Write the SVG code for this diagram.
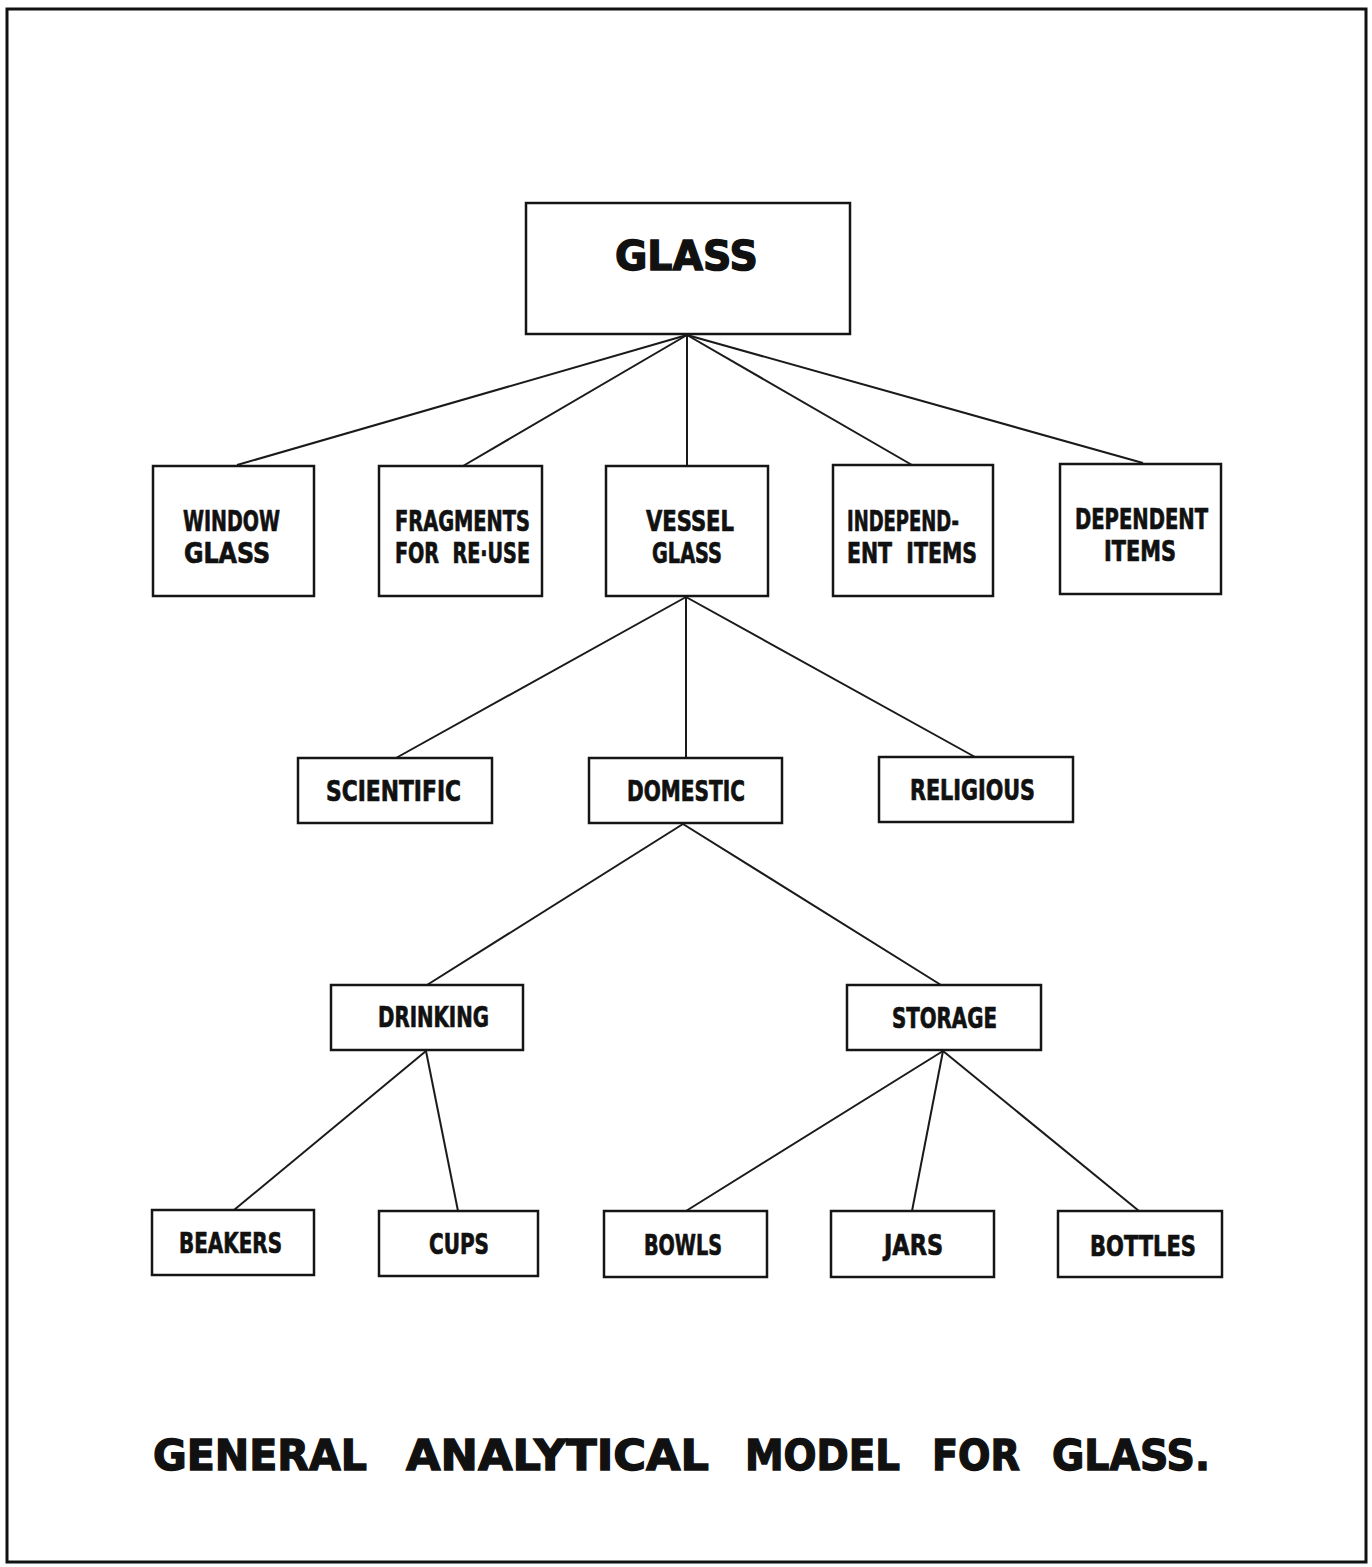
<svg xmlns="http://www.w3.org/2000/svg" width="1372" height="1567" viewBox="0 0 1372 1567">
<style>
.bg{fill:#ffffff}
.frame{fill:none;stroke:#111;stroke-width:3}
.box{fill:#fff;stroke:#151515;stroke-width:2.5}
.lbl{font-family:"Liberation Sans Narrow","DejaVu Sans Condensed","Liberation Sans",sans-serif;font-weight:bold;font-size:29px;fill:#111;stroke:#111;stroke-width:0.7}
.big{font-family:"DejaVu Sans","Liberation Sans",sans-serif;font-weight:bold;fill:#111;stroke:#111;stroke-width:1.4}
.conn line{stroke:#1a1a1a;stroke-width:2}
</style>
<rect class="bg" x="0" y="0" width="1372" height="1567"/>
<rect class="frame" x="7" y="9" width="1359" height="1553"/>
<g id="connectors" class="conn">
<line x1="687" y1="335" x2="237" y2="465"/>
<line x1="687" y1="335" x2="463" y2="466"/>
<line x1="687" y1="335" x2="687" y2="466"/>
<line x1="687" y1="335" x2="912" y2="465"/>
<line x1="687" y1="335" x2="1143" y2="463"/>
<line x1="686" y1="597" x2="396" y2="758"/>
<line x1="686" y1="597" x2="686" y2="758"/>
<line x1="686" y1="597" x2="975" y2="757"/>
<line x1="683" y1="824" x2="427" y2="985"/>
<line x1="683" y1="824" x2="941" y2="985"/>
<line x1="426" y1="1051" x2="234" y2="1210"/>
<line x1="426" y1="1051" x2="458" y2="1211"/>
<line x1="943" y1="1051" x2="686" y2="1211"/>
<line x1="943" y1="1051" x2="912" y2="1211"/>
<line x1="943" y1="1051" x2="1139" y2="1211"/>
</g>
<g id="glass"><rect class="box" x="526" y="203" width="324" height="131"/><text class="big" x="615" y="270" font-size="40" textLength="143" lengthAdjust="spacingAndGlyphs">GLASS</text></g>
<g id="window-glass"><rect class="box" x="153" y="466" width="161" height="130"/><text class="lbl" x="183" y="531" textLength="97" lengthAdjust="spacingAndGlyphs">WINDOW</text><text class="lbl" x="184" y="563" textLength="86" lengthAdjust="spacingAndGlyphs">GLASS</text></g>
<g id="fragments"><rect class="box" x="379" y="466" width="163" height="130"/><text class="lbl" x="395" y="531" textLength="135" lengthAdjust="spacingAndGlyphs">FRAGMENTS</text><text class="lbl" x="395" y="563" textLength="135" lengthAdjust="spacingAndGlyphs" xml:space="preserve">FOR  RE·USE</text></g>
<g id="vessel-glass"><rect class="box" x="606" y="466" width="162" height="130"/><text class="lbl" x="646" y="531" textLength="88" lengthAdjust="spacingAndGlyphs">VESSEL</text><text class="lbl" x="652" y="563" textLength="70" lengthAdjust="spacingAndGlyphs">GLASS</text></g>
<g id="independent"><rect class="box" x="833" y="465" width="160" height="131"/><text class="lbl" x="847" y="531" textLength="112" lengthAdjust="spacingAndGlyphs">INDEPEND-</text><text class="lbl" x="847" y="563" textLength="130" lengthAdjust="spacingAndGlyphs" xml:space="preserve">ENT  ITEMS</text></g>
<g id="dependent"><rect class="box" x="1060" y="464" width="161" height="130"/><text class="lbl" x="1075" y="529" textLength="133" lengthAdjust="spacingAndGlyphs">DEPENDENT</text><text class="lbl" x="1104" y="561" textLength="72" lengthAdjust="spacingAndGlyphs">ITEMS</text></g>
<g id="scientific"><rect class="box" x="298" y="758" width="194" height="65"/><text class="lbl" x="326" y="801" textLength="135" lengthAdjust="spacingAndGlyphs">SCIENTIFIC</text></g>
<g id="domestic"><rect class="box" x="589" y="758" width="193" height="65"/><text class="lbl" x="627" y="801" textLength="118" lengthAdjust="spacingAndGlyphs">DOMESTIC</text></g>
<g id="religious"><rect class="box" x="879" y="757" width="194" height="65"/><text class="lbl" x="910" y="800" textLength="125" lengthAdjust="spacingAndGlyphs">RELIGIOUS</text></g>
<g id="drinking"><rect class="box" x="331" y="985" width="192" height="65"/><text class="lbl" x="378" y="1027" textLength="111" lengthAdjust="spacingAndGlyphs">DRINKING</text></g>
<g id="storage"><rect class="box" x="847" y="985" width="194" height="65"/><text class="lbl" x="892" y="1028" textLength="105" lengthAdjust="spacingAndGlyphs">STORAGE</text></g>
<g id="beakers"><rect class="box" x="152" y="1210" width="162" height="65"/><text class="lbl" x="179" y="1253" textLength="103" lengthAdjust="spacingAndGlyphs">BEAKERS</text></g>
<g id="cups"><rect class="box" x="379" y="1211" width="159" height="65"/><text class="lbl" x="429" y="1254" textLength="60" lengthAdjust="spacingAndGlyphs">CUPS</text></g>
<g id="bowls"><rect class="box" x="604" y="1211" width="163" height="66"/><text class="lbl" x="644" y="1255" textLength="78" lengthAdjust="spacingAndGlyphs">BOWLS</text></g>
<g id="jars"><rect class="box" x="831" y="1211" width="163" height="66"/><text class="lbl" x="884" y="1255" textLength="59" lengthAdjust="spacingAndGlyphs">JARS</text></g>
<g id="bottles"><rect class="box" x="1058" y="1211" width="164" height="66"/><text class="lbl" x="1090" y="1256" textLength="106" lengthAdjust="spacingAndGlyphs">BOTTLES</text></g>
<g id="title">
<text class="big" x="153" y="1470" font-size="43" textLength="214" lengthAdjust="spacingAndGlyphs">GENERAL</text>
<text class="big" x="406" y="1470" font-size="43" textLength="303" lengthAdjust="spacingAndGlyphs">ANALYTICAL</text>
<text class="big" x="745" y="1470" font-size="43" textLength="155" lengthAdjust="spacingAndGlyphs">MODEL</text>
<text class="big" x="932" y="1470" font-size="43" textLength="88" lengthAdjust="spacingAndGlyphs">FOR</text>
<text class="big" x="1052" y="1470" font-size="43" textLength="158" lengthAdjust="spacingAndGlyphs">GLASS.</text>
</g>
</svg>
